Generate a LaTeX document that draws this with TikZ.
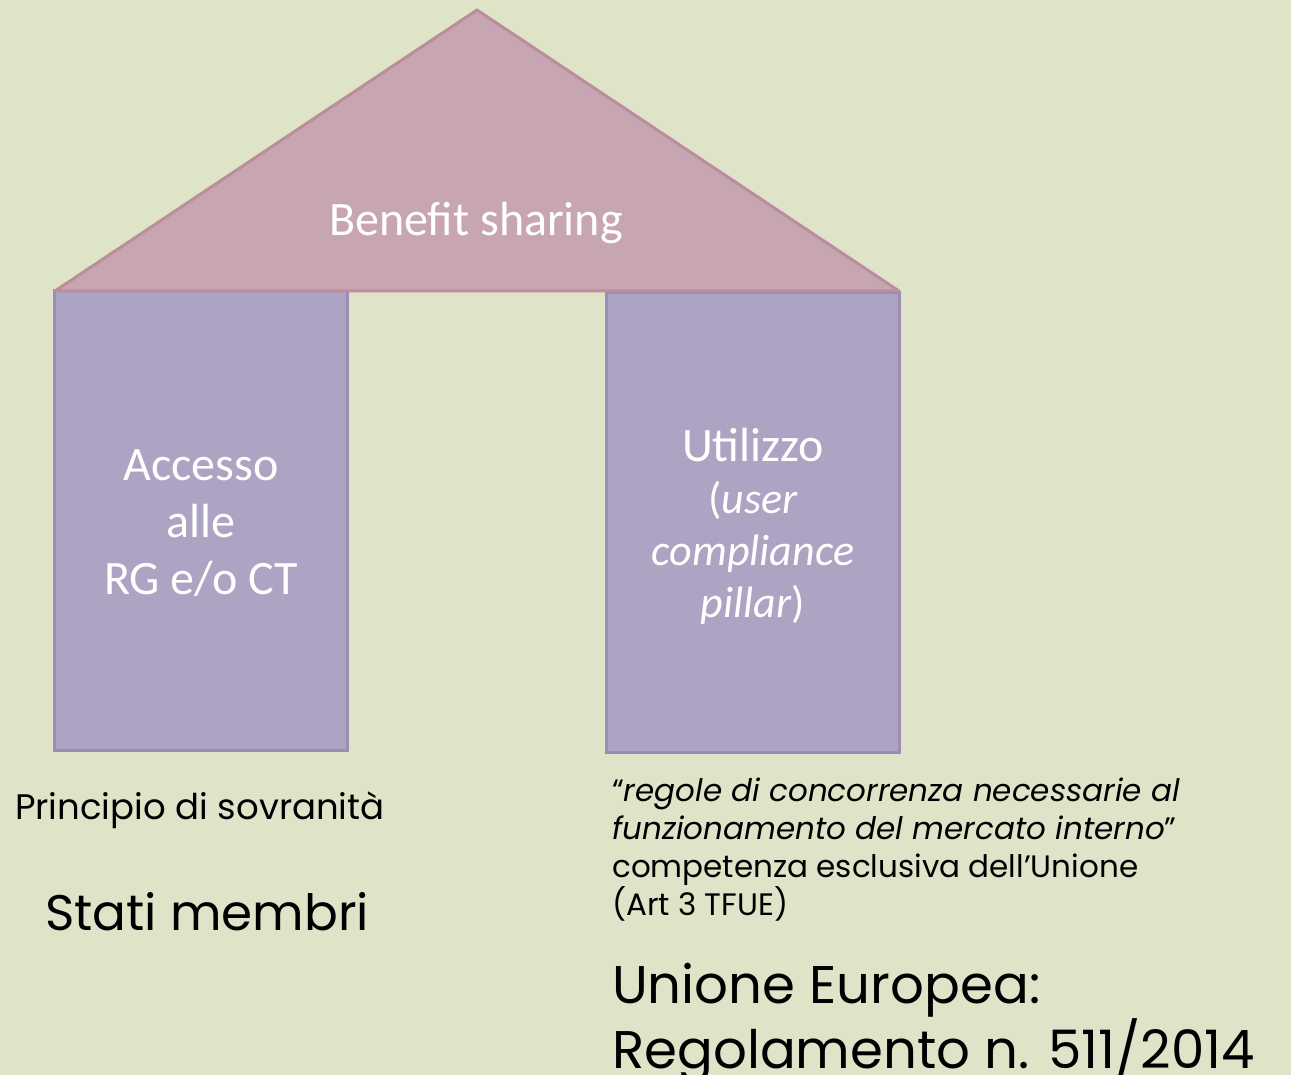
\documentclass[tikz,border=0pt]{standalone}
\usepackage{fontspec}
\setmainfont{Carlito}
\newfontfamily\gothic{Poppins}
\definecolor{sfondo}{HTML}{DFE4C8}
\definecolor{tetto}{HTML}{C7A6B2}
\definecolor{tettobordo}{HTML}{BB8E9E}
\definecolor{pilastro}{HTML}{ADA3C3}
\definecolor{pilastrobordo}{HTML}{9E8CB4}
\begin{document}
\begin{tikzpicture}[x=1pt,y=-1pt]
\tikzstyle{pilastro}=[draw=pilastrobordo,fill=pilastro,line width=3pt]
\tikzstyle{bianco}=[text=white,align=center,inner sep=0pt]
\tikzstyle{nota}=[text=black,align=left,inner sep=0pt,font=\gothic]
\fill[sfondo] (0,0) rectangle (1291,1075);
\useasboundingbox (0,0) rectangle (1291,1075);
% pilastri
\draw[pilastro] (54,291) rectangle (347,750);
\draw[pilastro] (606,293) rectangle (899,752);
% tetto
\draw[draw=tettobordo,fill=tetto,line width=3pt,line join=round] (55,291) -- (477,10) -- (899,291) -- cycle;
\node[bianco,font=\fontsize{48}{57}\selectfont,anchor=base] (BS) at (476,236) {Benefit sharing};
\node[bianco,font=\fontsize{48}{57}\selectfont,anchor=base] (Acc) at (201,594) {Accesso\\alle\\RG e/o CT};
\node[bianco,font=\fontsize{48}{52}\selectfont,anchor=base] (Ut) at (753,617) {Utilizzo\\{\fontsize{44}{52}\selectfont(\textit{user}}\\{\fontsize{44}{52}\selectfont\textit{compliance}}\\{\fontsize{44}{52}\selectfont\textit{pillar})}};
% testi sotto
\node[nota,font=\gothic\fontsize{35.5}{38}\selectfont,anchor=base west] (Princ) at (15,819) {Principio di sovranità};
\node[nota,font=\gothic\fontsize{50}{65}\selectfont,anchor=base west] (Stati) at (45,930) {Stati membri};
\node[nota,font=\gothic\fontsize{31}{38}\selectfont,anchor=base west] (Reg) at (612,915) {“\textit{regole di concorrenza necessarie al}\\\textit{funzionamento del mercato interno}”\\competenza esclusiva dell’Unione\\(Art 3 TFUE)};
\node[nota,font=\gothic\fontsize{53}{65}\selectfont,anchor=base west] (UE) at (612,1068) {Unione Europea:\\Regolamento n. 511/2014};
\end{tikzpicture}
\end{document}
